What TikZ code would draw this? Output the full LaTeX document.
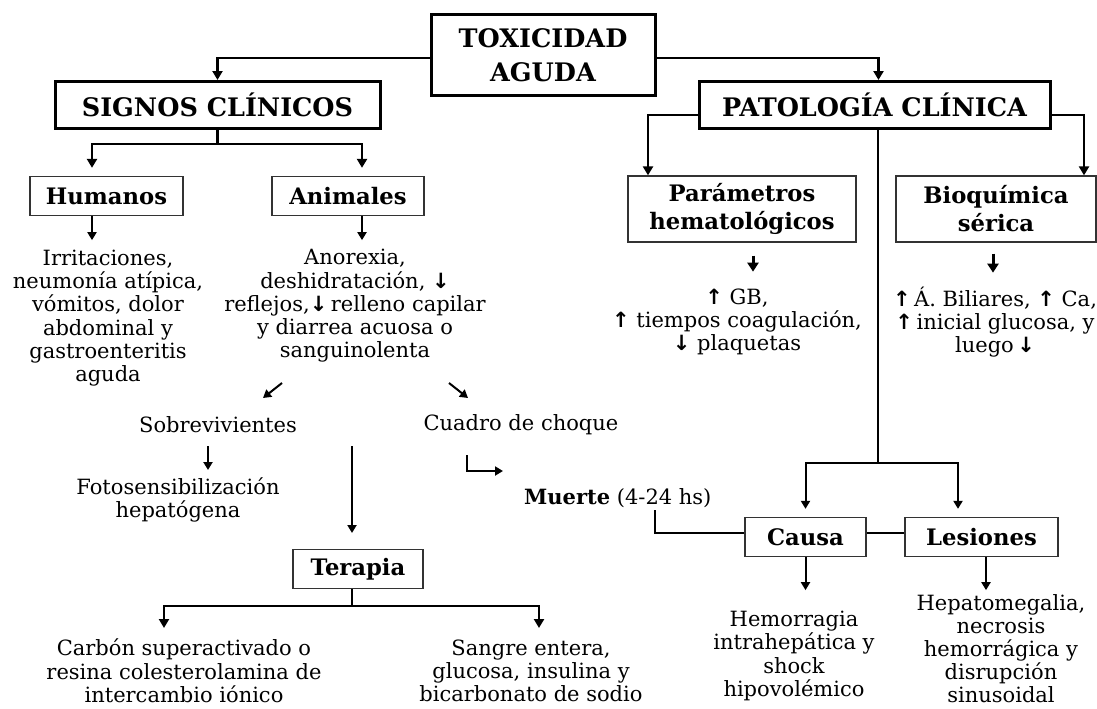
\documentclass[tikz,border=0pt]{standalone}
\usepackage{fontspec}
\setmainfont{DejaVu Serif}
\newfontfamily\symf{DejaVu Sans}
\usetikzlibrary{arrows.meta}
\newcommand{\upar}{{\symf\bfseries ↑}}
\newcommand{\dnar}{{\symf\bfseries ↓}}
\begin{document}
\begin{tikzpicture}[x=1pt,y=-1pt,
  txt/.style={align=center,inner sep=0pt,font=\fontsize{21}{23.3}\selectfont},
  big/.style={draw,line width=3pt,inner sep=0pt,align=center,font=\bfseries\fontsize{25.5}{34}\selectfont},
  small/.style={draw=black!80,line width=1.3pt,inner sep=0pt,align=center,font=\bfseries\fontsize{22.7}{28}\selectfont},
  arr/.style={line width=2.5pt,-{Triangle[width=10pt,length=9pt]}},
  arrb/.style={line width=3pt,-{Triangle[width=11pt,length=9pt]}},
  arrm/.style={line width=2pt,-{Triangle[width=9pt,length=8pt]}},
  thin/.style={line width=1.2pt}]
\useasboundingbox (0,0) rectangle (1097,709);
\fill[white] (0,0) rectangle (1097,709);

% boxes
\node[big,minimum width=224pt,minimum height=80pt] (tox) at (543,55) {TOXICIDAD\\AGUDA};
\node[big,minimum width=325pt,minimum height=47pt] (sig) at (217.5,105) {SIGNOS CLÍNICOS};
\node[big,minimum width=351pt,minimum height=47pt] (pat) at (874.5,105) {PATOLOGÍA CLÍNICA};
\node[small,minimum width=153pt,minimum height=39pt] (hum) at (106.5,196) {Humanos};
\node[small,minimum width=152pt,minimum height=39pt] (ani) at (348,196) {Animales};
\node[small,minimum width=228pt,minimum height=66pt] (par) at (742,209) {Parámetros\\hematológicos};
\node[small,minimum width=200pt,minimum height=66pt] (bio) at (996,209) {Bioquímica\\sérica};
\node[small,minimum width=130pt,minimum height=39pt] (ter) at (358,569) {Terapia};
\node[small,minimum width=121pt,minimum height=39pt] (cau) at (805.5,537) {Causa};
\node[small,minimum width=153pt,minimum height=39pt] (les) at (981.5,537) {Lesiones};

% texts
\node[txt] (thum) at (108,318) {Irritaciones,\\neumonía atípica,\\vómitos, dolor\\abdominal y\\gastroenteritis\\aguda};
\node[txt] (tani) at (355,306) {Anorexia,\\deshidratación, \dnar\\reflejos,\dnar\,relleno capilar\\y diarrea acuosa o\\sanguinolenta};
\node[txt] (tpar) at (737,322) {\upar\ GB,\\\upar\ tiempos coagulación,\\\dnar\ plaquetas};
\node[txt] (tbio) at (995,322) {\upar\,Á. Biliares, \upar\ Ca,\\\upar\,inicial glucosa, y\\luego\,\dnar};
\node[txt] (sob) at (218,425) {Sobrevivientes};
\node[txt] (cua) at (521,425) {Cuadro de choque};
\node[txt] (foto) at (178,500) {Fotosensibilización\\hepatógena};
\node[txt,anchor=west] (mue) at (524,498) {\textbf{Muerte} (4-24 hs)};
\node[txt] (carb) at (184,671) {Carbón superactivado o\\resina colesterolamina de\\intercambio iónico};
\node[txt] (sang) at (531,671) {Sangre entera,\\glucosa, insulina y\\bicarbonato de sodio};
\node[txt] (tcau) at (794,656) {Hemorragia\\intrahepática y\\shock\\hipovolémico};
\node[txt,font=\fontsize{21}{23}\selectfont] (tles) at (1001,649) {Hepatomegalia,\\necrosis\\hemorrágica y\\disrupción\\sinusoidal};

% coordinates
\coordinate (sj) at (217.5,144);
\coordinate (pj) at (878,463);
\coordinate (mj) at (655,510);
\coordinate (a1s) at (282,383); \coordinate (a1e) at (263,398);
\coordinate (a2s) at (449,383); \coordinate (a2e) at (468,398);
\coordinate (a3s) at (208,446); \coordinate (a3e) at (208,470);
\coordinate (a4s) at (352,446); \coordinate (a4e) at (352,533);
\coordinate (a5s) at (467,455); \coordinate (a5e) at (503,471);
\coordinate (tj) at (352,606);
\coordinate (c1) at (164,628); \coordinate (c2) at (539,628);

% connectors
\draw[arr] ([yshift=-3pt]tox.west) -| (sig.north);
\draw[arr] ([yshift=-3pt]tox.east) -| ([xshift=4pt]pat.north);
\draw[line width=2.5pt] (sig.south) -- (sj);
\draw[arr] (sj) -| ([xshift=-14.5pt,yshift=8pt]hum.north);
\draw[arr] (sj) -| ([xshift=14pt,yshift=8pt]ani.north);
\draw[arrm] ([xshift=-14.5pt]hum.south) -- ++(0,24);
\draw[arrm] ([xshift=14pt]ani.south) -- ++(0,24);
\draw[arr] ([yshift=-10pt]pat.west) -| ([xshift=-94pt]par.north);
\draw[arr] ([yshift=-10pt]pat.east) -| ([xshift=88pt]bio.north);
\draw[arrb] ([xshift=11pt,yshift=-13pt]par.south) -- ++(0,16);
\draw[arrb] ([xshift=-3pt,yshift=-11pt]bio.south) -- ++(0,19);
\draw[thin] ([xshift=3.5pt]pat.south) -- (pj);
\draw[arrm] (pj) -| ([yshift=8pt]cau.north);
\draw[arrm] (pj) -| ([xshift=-23.5pt,yshift=8pt]les.north);
\draw[arrm] (cau.south) -- ++(0,33);
\draw[arrm] ([xshift=4.5pt]les.south) -- ++(0,33);
\draw[thin] ([yshift=4pt]cau.east) -- ([yshift=4pt]les.west);
\draw[thin] (mj) |- ([yshift=4pt]cau.west);
\draw[arrm] (a1s) -- (a1e);
\draw[arrm] (a2s) -- (a2e);
\draw[arrm] (a3s) -- (a3e);
\draw[arrm] (a4s) -- (a4e);
\draw[arrm] (a5s) |- (a5e);
\draw[thin] ([xshift=-6pt]ter.south) -- (tj);
\draw[arr] (tj) -| (c1);
\draw[arr] (tj) -| (c2);
\end{tikzpicture}
\end{document}
